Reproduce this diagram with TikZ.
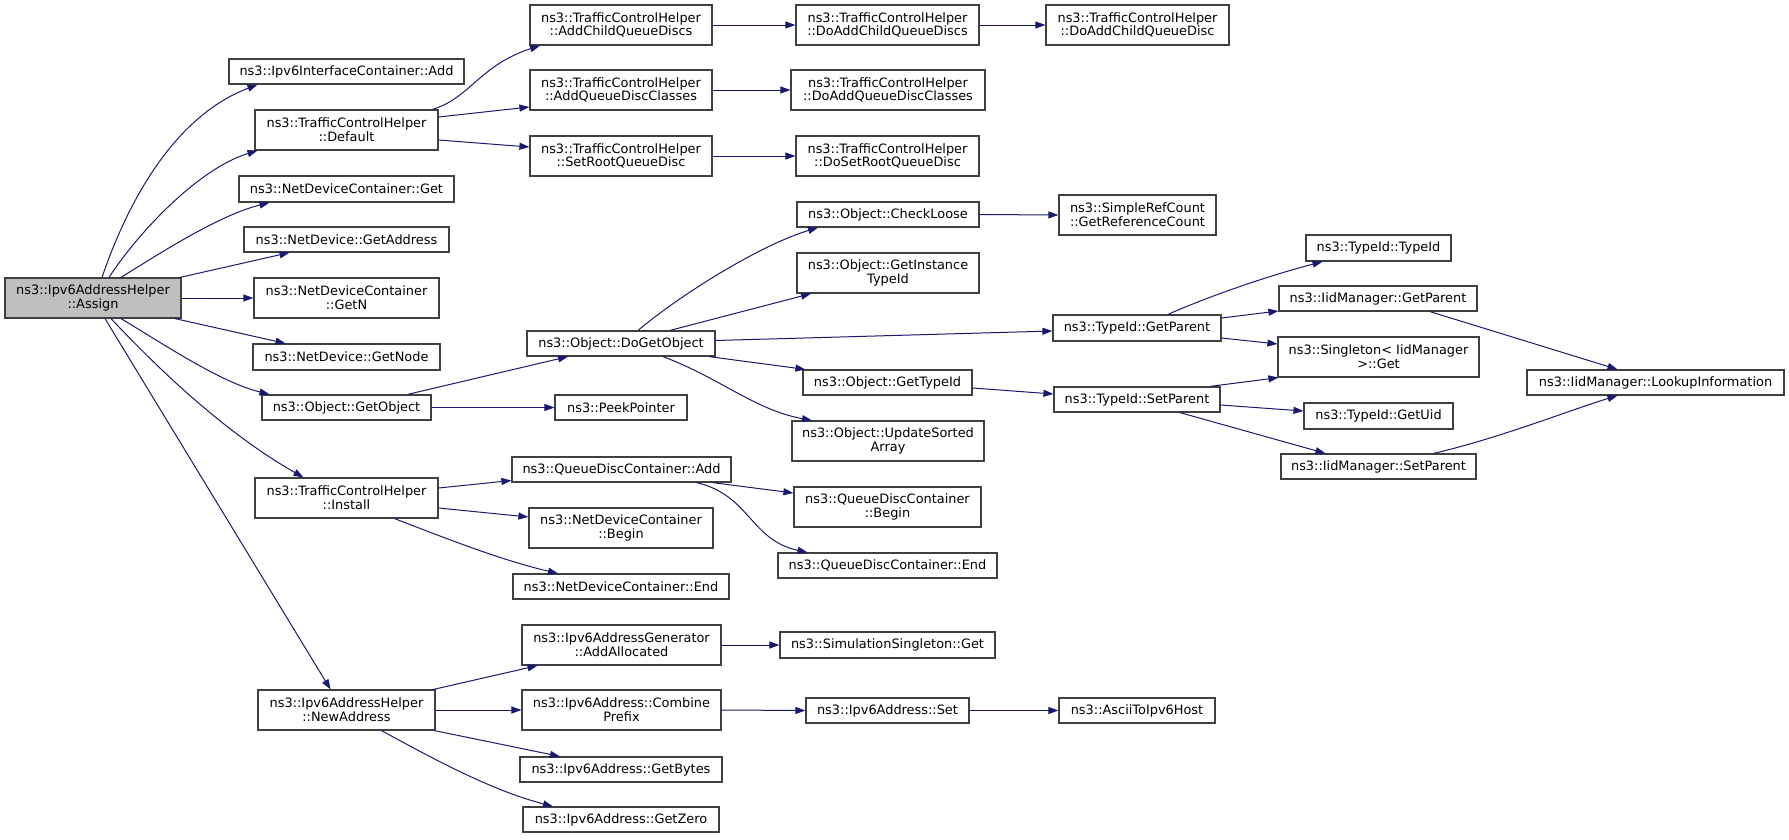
\documentclass[tikz,border=0pt]{standalone}
\usepackage{fontspec}
\setmainfont{DejaVu Sans}
\usetikzlibrary{arrows.meta}
\definecolor{edgec}{HTML}{191970}
\definecolor{boxc}{HTML}{404040}
\definecolor{rootc}{HTML}{BFBFBF}
\begin{document}
\begin{tikzpicture}[x=1pt,y=-1pt,
  box/.style={draw=boxc, line width=1.2pt, fill=white, inner sep=0pt, align=center,
    font=\fontsize{12.9pt}{13.7pt}\selectfont},
  edge/.style={draw=edgec, line width=1pt, -{Triangle[length=10pt,width=7pt,fill=edgec]}}]
\useasboundingbox (0,0) rectangle (1789,839);
% column 0
\node[box, fill=rootc, minimum width=176pt, minimum height=40pt] (assign) at (93,298) {ns3::Ipv6AddressHelper\\::Assign};
% column 1
\node[box, minimum width=235pt, minimum height=25pt] (ifcAdd) at (346.5,71.5) {ns3::Ipv6InterfaceContainer::Add};
\node[box, minimum width=183pt, minimum height=40pt] (default) at (346.5,130) {ns3::TrafficControlHelper\\::Default};
\node[box, minimum width=215pt, minimum height=26pt] (ndcGet) at (346.5,189) {ns3::NetDeviceContainer::Get};
\node[box, minimum width=205pt, minimum height=25pt] (getAddress) at (346.5,239.5) {ns3::NetDevice::GetAddress};
\node[box, minimum width=185pt, minimum height=40pt] (getN) at (346.5,298) {ns3::NetDeviceContainer\\::GetN};
\node[box, minimum width=187pt, minimum height=26pt] (getNode) at (346.5,357) {ns3::NetDevice::GetNode};
\node[box, minimum width=169pt, minimum height=25pt] (getObject) at (346.5,407.5) {ns3::Object::GetObject};
\node[box, minimum width=183pt, minimum height=40pt] (install) at (346.5,498) {ns3::TrafficControlHelper\\::Install};
\node[box, minimum width=177pt, minimum height=40pt] (newAddress) at (346.5,710) {ns3::Ipv6AddressHelper\\::NewAddress};
% column 2
\node[box, minimum width=182pt, minimum height=40pt] (addChild) at (621,25) {ns3::TrafficControlHelper\\::AddChildQueueDiscs};
\node[box, minimum width=182pt, minimum height=40pt] (addClasses) at (621,90) {ns3::TrafficControlHelper\\::AddQueueDiscClasses};
\node[box, minimum width=182pt, minimum height=40pt] (setRoot) at (621,156) {ns3::TrafficControlHelper\\::SetRootQueueDisc};
\node[box, minimum width=188pt, minimum height=25pt] (doGetObject) at (621,343.5) {ns3::Object::DoGetObject};
\node[box, minimum width=132pt, minimum height=25pt] (peek) at (621,407.5) {ns3::PeekPointer};
\node[box, minimum width=219pt, minimum height=25pt] (qdcAdd) at (621.5,469.5) {ns3::QueueDiscContainer::Add};
\node[box, minimum width=184pt, minimum height=40pt] (ndcBegin) at (621,528) {ns3::NetDeviceContainer\\::Begin};
\node[box, minimum width=216pt, minimum height=25pt] (ndcEnd) at (621,586.5) {ns3::NetDeviceContainer::End};
\node[box, minimum width=199pt, minimum height=40pt] (addAlloc) at (621.5,645) {ns3::Ipv6AddressGenerator\\::AddAllocated};
\node[box, minimum width=199pt, minimum height=40pt] (combine) at (621.5,710) {ns3::Ipv6Address::Combine\\Prefix};
\node[box, minimum width=202pt, minimum height=25pt] (getBytes) at (621,769.5) {ns3::Ipv6Address::GetBytes};
\node[box, minimum width=196pt, minimum height=25pt] (getZero) at (621,819.5) {ns3::Ipv6Address::GetZero};
% column 3
\node[box, minimum width=183pt, minimum height=40pt] (doAddChild) at (887.5,25) {ns3::TrafficControlHelper\\::DoAddChildQueueDiscs};
\node[box, minimum width=194pt, minimum height=40pt] (doAddClasses) at (888,90) {ns3::TrafficControlHelper\\::DoAddQueueDiscClasses};
\node[box, minimum width=183pt, minimum height=40pt] (doSetRoot) at (887.5,156) {ns3::TrafficControlHelper\\::DoSetRootQueueDisc};
\node[box, minimum width=182pt, minimum height=25pt] (checkLoose) at (888,214.5) {ns3::Object::CheckLoose};
\node[box, minimum width=182pt, minimum height=40pt] (getInstance) at (888,273) {ns3::Object::GetInstance\\TypeId};
\node[box, minimum width=169pt, minimum height=25pt] (objGetTypeId) at (887.5,382.5) {ns3::Object::GetTypeId};
\node[box, minimum width=192pt, minimum height=40pt] (updateSorted) at (888,441) {ns3::Object::UpdateSorted\\Array};
\node[box, minimum width=187pt, minimum height=40pt] (qdcBegin) at (887.5,507) {ns3::QueueDiscContainer\\::Begin};
\node[box, minimum width=219pt, minimum height=25pt] (qdcEnd) at (887.5,565.5) {ns3::QueueDiscContainer::End};
\node[box, minimum width=215pt, minimum height=26pt] (simSingleton) at (887.5,645) {ns3::SimulationSingleton::Get};
\node[box, minimum width=163pt, minimum height=25pt] (ipv6Set) at (887.5,710.5) {ns3::Ipv6Address::Set};
% column 4
\node[box, minimum width=183pt, minimum height=40pt] (doAddChildQD) at (1137.5,25) {ns3::TrafficControlHelper\\::DoAddChildQueueDisc};
\node[box, minimum width=157pt, minimum height=40pt] (refCount) at (1137.5,215) {ns3::SimpleRefCount\\::GetReferenceCount};
\node[box, minimum width=168pt, minimum height=26pt] (typeGetParent) at (1137,328) {ns3::TypeId::GetParent};
\node[box, minimum width=166pt, minimum height=25pt] (typeSetParent) at (1137,399.5) {ns3::TypeId::SetParent};
\node[box, minimum width=156pt, minimum height=25pt] (ascii) at (1137,710.5) {ns3::AsciiToIpv6Host};
% column 5
\node[box, minimum width=145pt, minimum height=26pt] (typeIdTypeId) at (1378.5,248) {ns3::TypeId::TypeId};
\node[box, minimum width=198pt, minimum height=25pt] (iidGetParent) at (1378,298.5) {ns3::IidManager::GetParent};
\node[box, minimum width=201pt, minimum height=40pt] (singletonGet) at (1378.5,357) {ns3::Singleton< IidManager\\ >::Get};
\node[box, minimum width=149pt, minimum height=26pt] (getUid) at (1378.5,416) {ns3::TypeId::GetUid};
\node[box, minimum width=195pt, minimum height=25pt] (iidSetParent) at (1378.5,466.5) {ns3::IidManager::SetParent};
% column 6
\node[box, minimum width=257pt, minimum height=25pt] (lookup) at (1655.5,382.5) {ns3::IidManager::LookupInformation};

% edges from Assign
\draw[edge] ([xshift=9pt]assign.north) .. controls (125,210) and (170,118) .. ([xshift=-89pt]ifcAdd.south);
\draw[edge] ([xshift=16pt]assign.north) .. controls (140,230) and (200,168) .. ([xshift=-89pt]default.south);
\draw[edge] ([xshift=28pt]assign.north) .. controls (165,250) and (220,215) .. ([xshift=-77pt]ndcGet.south);
\draw[edge] ([xshift=87pt]assign.north) -- ([xshift=-57pt]getAddress.south);
\draw[edge] (assign.east) -- (getN.west);
\draw[edge] ([xshift=82pt]assign.south) -- ([xshift=-61pt]getNode.north);
\draw[edge] ([xshift=28pt]assign.south) .. controls (165,345) and (220,382) .. ([xshift=-77pt]getObject.north);
\draw[edge] ([xshift=18pt]assign.south) .. controls (150,360) and (220,430) .. ([xshift=-43pt]install.north);
\draw[edge] ([xshift=12pt]assign.south) -- ([xshift=-16pt]newAddress.north);
% Default
\draw[edge] ([xshift=86pt]default.north) .. controls (470,98) and (480,65) .. ([xshift=-81pt]addChild.south);
\draw[edge] ([yshift=13pt]default.east) -- ([yshift=-17pt]addClasses.west);
\draw[edge] ([yshift=-10pt]default.east) -- ([yshift=9pt]setRoot.west);
\draw[edge] (addChild.east) -- (doAddChild.west);
\draw[edge] (addClasses.east) -- (doAddClasses.west);
\draw[edge] (setRoot.east) -- (doSetRoot.west);
\draw[edge] (doAddChild.east) -- (doAddChildQD.west);
% GetObject
\draw[edge] ([xshift=61pt]getObject.north) -- ([xshift=-53pt]doGetObject.south);
\draw[edge] (getObject.east) -- (peek.west);
\draw[edge] ([xshift=17pt]doGetObject.north) .. controls (680,295) and (760,245) .. ([xshift=-70pt]checkLoose.south);
\draw[edge] ([xshift=49pt]doGetObject.north) -- ([xshift=-77pt]getInstance.south);
\draw[edge] ([yshift=3pt]doGetObject.east) -- ([yshift=-3pt]typeGetParent.west);
\draw[edge] ([xshift=88pt]doGetObject.south) -- ([xshift=3pt]objGetTypeId.north west);
\draw[edge] ([xshift=42pt]doGetObject.south) .. controls (720,378) and (755,410) .. ([xshift=-76pt]updateSorted.north);
\draw[edge] ([yshift=-5.5pt]objGetTypeId.east) -- ([yshift=5.5pt]typeSetParent.west);
\draw[edge] (checkLoose.east) -- (refCount.west);
% TypeId
\draw[edge] ([xshift=31pt]typeGetParent.north) .. controls (1200,300) and (1260,278) .. ([xshift=-56pt]typeIdTypeId.south);
\draw[edge] ([yshift=10pt]typeGetParent.east) -- ([yshift=-12.5pt]iidGetParent.west);
\draw[edge] ([yshift=-10pt]typeGetParent.east) -- ([yshift=13pt]singletonGet.west);
\draw[edge] ([xshift=73pt]typeSetParent.north) -- ([xshift=1pt]singletonGet.south west);
\draw[edge] ([yshift=-5.5pt]typeSetParent.east) -- ([yshift=5pt]getUid.west);
\draw[edge] ([xshift=43pt]typeSetParent.south) -- ([xshift=-53pt]iidSetParent.north);
\draw[edge] ([xshift=52pt]iidGetParent.south) -- ([xshift=-38pt]lookup.north);
\draw[edge] ([xshift=55pt]iidSetParent.north) .. controls (1500,438) and (1570,410) .. ([xshift=-38pt]lookup.south);
% Install
\draw[edge] ([yshift=10pt]install.east) -- ([yshift=-11pt]qdcAdd.west);
\draw[edge] ([yshift=-10pt]install.east) -- ([yshift=11pt]ndcBegin.west);
\draw[edge] ([xshift=48pt]install.south) .. controls (440,536) and (500,560) .. ([xshift=-63pt]ndcEnd.north);
\draw[edge] ([xshift=91pt]qdcAdd.south) -- ([yshift=14pt]qdcBegin.west);
\draw[edge] ([xshift=75pt]qdcAdd.south) .. controls (750,495) and (750,540) .. ([xshift=-80pt]qdcEnd.north);
% NewAddress
\draw[edge] ([xshift=87pt]newAddress.north) -- ([xshift=-84pt]addAlloc.south);
\draw[edge] (newAddress.east) -- (combine.west);
\draw[edge] ([xshift=88pt]newAddress.south) -- ([xshift=-61pt]getBytes.north);
\draw[edge] ([xshift=35pt]newAddress.south) .. controls (430,757) and (490,790) .. ([xshift=-68pt]getZero.north);
\draw[edge] (addAlloc.east) -- (simSingleton.west);
\draw[edge] (combine.east) -- (ipv6Set.west);
\draw[edge] (ipv6Set.east) -- (ascii.west);
\end{tikzpicture}
\end{document}
